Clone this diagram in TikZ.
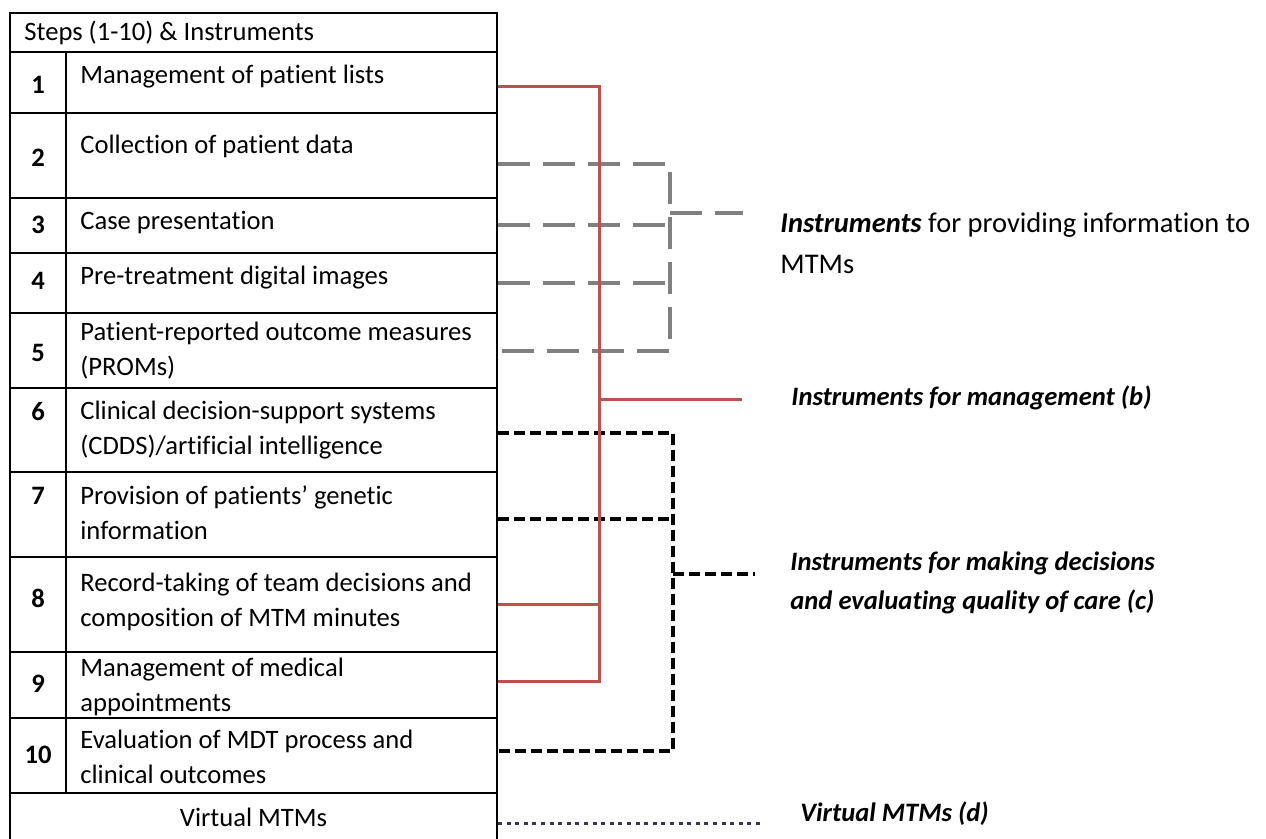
\documentclass[tikz,border=0pt]{standalone}
\usepackage{fontspec}
\setmainfont{Carlito}[Ligatures=NoCommon]
\definecolor{mgmtred}{HTML}{C0504D}
\definecolor{infogray}{HTML}{808080}
\definecolor{virtpurple}{HTML}{403152}
\tikzset{
    cell/.style={draw, line width=1pt, inner sep=0pt, minimum width=215.5pt},
    numcell/.style={draw, line width=1pt, inner sep=0pt, minimum width=28pt},
    widecell/.style={draw, line width=1pt, inner sep=0pt, minimum width=243.5pt},
    steptext/.style={anchor=west, align=left, inner sep=0pt,
    	font=\fontsize{13.3}{17.5}\selectfont},
    numtext/.style={inner sep=0pt, font=\fontsize{13.3}{17.5}\selectfont\bfseries}
}
\tikzset{
    mgmtline/.style={mgmtred, line width=1.5pt},
    infoline/.style={infogray, line width=2pt, dash pattern=on 16pt off 6.5pt},
    decline/.style={black, line width=2pt, dash pattern=on 5.5pt off 2.5pt},
    virtline/.style={virtpurple, line width=1.5pt, dash pattern=on 2pt off 2.3pt},
    grouplabel/.style={anchor=west, align=left, inner sep=0pt,
    	font=\fontsize{13.3}{19.5}\selectfont\bfseries\itshape}
}

\begin{document}
\begin{tikzpicture}[x=0.5pt, y=-0.5pt]
	\useasboundingbox (0,0) rectangle (1266,839);
	\node [widecell, minimum height=19.5pt] (head) at (253.5,32.5) {};
	\node [steptext] (headtext) at (24,33) {Steps (1-10) \& Instruments};
	\node [numcell, minimum height=30.5pt] (n1) at (38,82.5) {};
	\node [numcell, minimum height=42.5pt] (n2) at (38,155.5) {};
	\node [numcell, minimum height=27.5pt] (n3) at (38,225.5) {};
	\node [numcell, minimum height=30pt] (n4) at (38,283) {};
	\node [numcell, minimum height=37.5pt] (n5) at (38,350.5) {};
	\node [numcell, minimum height=42pt] (n6) at (38,430) {};
	\node [numcell, minimum height=42.5pt] (n7) at (38,514.5) {};
	\node [numcell, minimum height=47.5pt] (n8) at (38,604.5) {};
	\node [numcell, minimum height=33pt] (n9) at (38,685) {};
	\node [numcell, minimum height=37.5pt] (n10) at (38,755.5) {};
	\node [cell, minimum height=30.5pt] (s1) at (281.5,82.5) {};
	\node [cell, minimum height=42.5pt] (s2) at (281.5,155.5) {};
	\node [cell, minimum height=27.5pt] (s3) at (281.5,225.5) {};
	\node [cell, minimum height=30pt] (s4) at (281.5,283) {};
	\node [cell, minimum height=37.5pt] (s5) at (281.5,350.5) {};
	\node [cell, minimum height=42pt] (s6) at (281.5,430) {};
	\node [cell, minimum height=42.5pt] (s7) at (281.5,514.5) {};
	\node [cell, minimum height=47.5pt] (s8) at (281.5,604.5) {};
	\node [cell, minimum height=33pt] (s9) at (281.5,685) {};
	\node [cell, minimum height=37.5pt] (s10) at (281.5,755.5) {};
	\node [widecell, minimum height=24.5pt, font=\fontsize{13.3}{17.5}\selectfont] (virt) at (253.5,817.5) {Virtual MTMs};
	\node [numtext] (k1) at (38,85) {1};
	\node [numtext] (k2) at (38,158) {2};
	\node [numtext] (k3) at (38,225) {3};
	\node [numtext] (k4) at (38,281) {4};
	\node [numtext] (k5) at (38,353) {5};
	\node [numtext] (k6) at (38,412) {6};
	\node [numtext] (k7) at (38,496) {7};
	\node [numtext] (k8) at (38,598) {8};
	\node [numtext] (k9) at (38,684) {9};
	\node [numtext] (k10) at (38,755) {10};
	\node [steptext] (t1) at (80,77) {Management of patient lists};
	\node [steptext] (t2) at (80,146) {Collection of patient data};
	\node [steptext] (t3) at (80,222) {Case presentation};
	\node [steptext] (t4) at (80,278) {Pre-treatment digital images};
	\node [steptext] (t5) at (80,351) {Patient-reported outcome measures\\(PROMs)};
	\node [steptext] (t6) at (80,430) {Clinical decision-support systems\\(CDDS)/artificial intelligence};
	\node [steptext] (t7) at (80,513) {Provision of patients’ genetic\\information};
	\node [steptext] (t8) at (80,602) {Record-taking of team decisions and\\composition of MTM minutes};
	\node [steptext] (t9) at (80,687) {Management of medical\\appointments};
	\node [steptext] (t10) at (80,757) {Evaluation of MDT process and\\clinical outcomes};
	\node [steptext, font=\fontsize{14.25}{20.5}\selectfont] (info) at (780,243.5) {\textbf{\textit{Instruments}} for providing information to\\MTMs};
	\node [grouplabel] (mgmt) at (791,398) {Instruments for management (b)};
	\node [grouplabel] (dec) at (790,582.5) {Instruments for making decisions\\and evaluating quality of care (c)};
	\node [grouplabel] (virtlab) at (800,814) {Virtual MTMs (d)};
	\coordinate (rjoin) at (599,682);
	\coordinate (rend) at (742,400);
	\coordinate (gbot) at (670,351);
	\coordinate (gend) at (743,213);
	\coordinate (dbot) at (673,751);
	\coordinate (dend) at (755,574);
	\coordinate (vend) at (760,824);
	\draw [infoline] ([yshift=-4.25pt]s2.east) -| (gbot) -- (s5.east |- gbot);
	\draw [infoline] (s3.east) -- (s3.east -| gbot);
	\draw [infoline] (s4.east) -- (s4.east -| gbot);
	\draw [infoline] (gend -| gbot) -- (gend);
	\draw [decline] ([yshift=-1.5pt]s6.east) -| (dbot) -- (s10.east |- dbot);
	\draw [decline] ([yshift=-2.25pt]s7.east) -- ([yshift=-2.25pt]s7.east -| dbot);
	\draw [decline] (dend -| dbot) -- (dend);
	\draw [mgmtline] ([yshift=-2.25pt]s1.east) -| (rjoin) -- (s9.east |- rjoin);
	\draw [mgmtline] (s8.east) -- (s8.east -| rjoin);
	\draw [mgmtline] (rend -| rjoin) -- (rend);
	\draw [virtline] (virt.east |- vend) -- (vend);
\end{tikzpicture}
\end{document}
